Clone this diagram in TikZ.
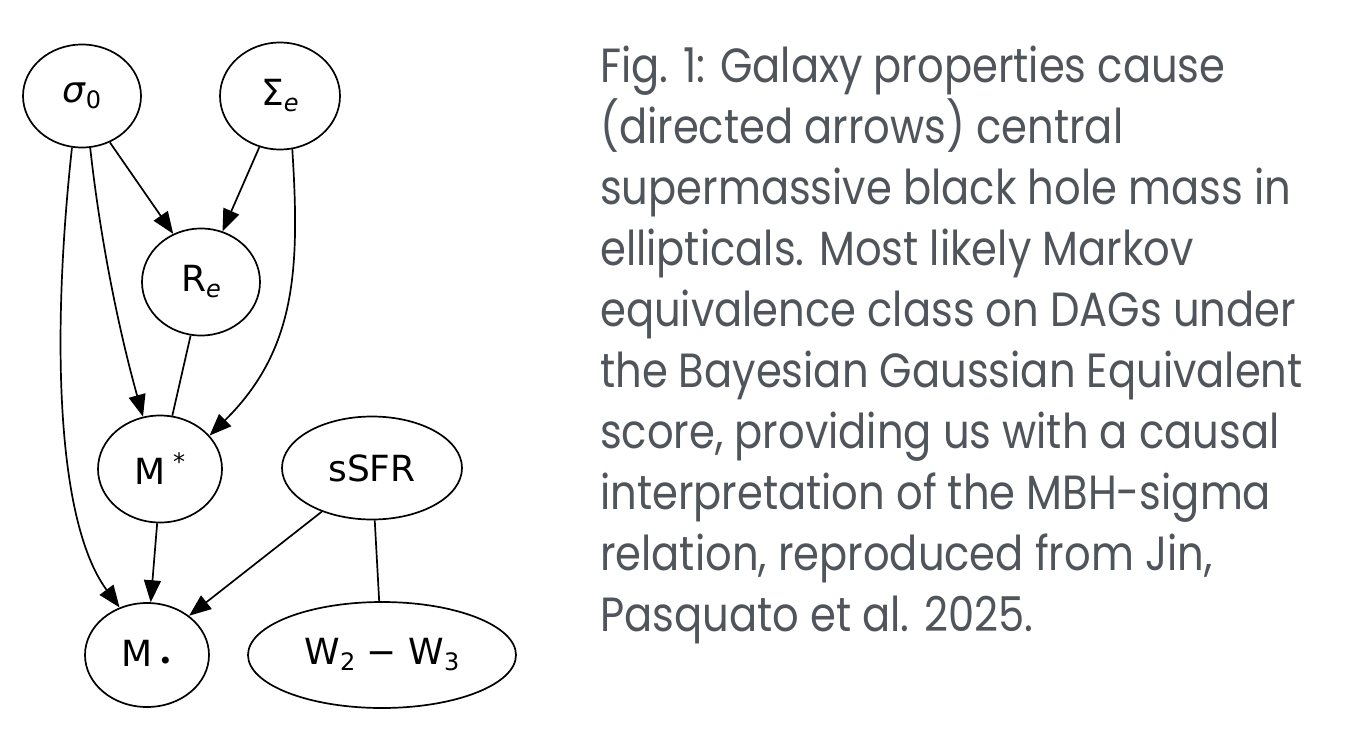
\documentclass[tikz,border=0pt]{standalone}
\usepackage{fontspec}
\setmainfont[FakeStretch=0.868]{Poppins}
\newfontfamily\dv{DejaVu Sans}
\usetikzlibrary{shapes.geometric,arrows.meta}
\definecolor{captxt}{HTML}{50555C}
\newcommand{\gsub}[1]{\raisebox{-6pt}{\fontsize{24}{24}\selectfont #1}}
\begin{document}
\begin{tikzpicture}[x=1pt,y=-1pt,
  gnode/.style={draw=black, line width=1.7pt, ellipse, inner sep=0pt,
    font=\dv\fontsize{36}{40}\selectfont},
  arr/.style={line width=1.7pt, -{Triangle[length=22pt,width=17pt]}},
  lnk/.style={line width=1.7pt},
  captext/.style={anchor=base west, inner sep=0pt, text=captxt,
    font=\fontsize{48}{58}\selectfont}]
\useasboundingbox[fill=white] (0,0) rectangle (1346,734);
% nodes
\node[gnode, minimum width=118pt, minimum height=103pt] (s0) at (82,96) {{\itshape σ}\gsub{0}};
\node[gnode, minimum width=120pt, minimum height=107pt] (Se) at (280,96) {Σ\gsub{\itshape e}};
\node[gnode, minimum width=118pt, minimum height=107pt] (Re) at (201,282) {R\gsub{\itshape e}};
\node[gnode, minimum width=124pt, minimum height=107pt] (Ms) at (160,469) {M\hspace{7pt}\raisebox{14pt}{\fontsize{24}{24}\selectfont *}};
\node[gnode, minimum width=180pt, minimum height=103pt] (sS) at (372,468) {sSFR};
\node[gnode, minimum width=124pt, minimum height=104pt] (Md) at (147,655) {M\hspace{6pt}\raisebox{-3pt}{\fontsize{24}{24}\selectfont •}};
\node[gnode, minimum width=268pt, minimum height=106pt] (W) at (382,655) {W\gsub{2} − W\gsub{3}};
% edges
\draw[arr] (s0.-59) -- (Re.120);
\draw[arr] (Se.-112) -- (Re.67);
\draw[arr] (s0.-81) .. controls (100,237) and (118,327) .. (Ms.108);
\draw[arr] (s0.-101) .. controls (52,330) and (55,520) .. (Md.120);
\draw[arr] (Se.-77) .. controls (300,270) and (296,350) .. (Ms.34);
\draw[lnk] (Re.-101) -- (Ms.77);
\draw[arr] (Ms.-93) -- (Md.86);
\draw[arr] (sS.-139) -- (Md.43);
\draw[lnk] (sS.-87) -- (W.93);
% caption
\node[captext] (c1) at (600,82) {Fig. 1: Galaxy properties cause};
\node[captext] (c2) at (600,143) {(directed arrows) central};
\node[captext] (c3) at (600,204) {supermassive black hole mass in};
\node[captext] (c4) at (600,265) {ellipticals. Most likely Markov};
\node[captext] (c5) at (600,326) {equivalence class on DAGs under};
\node[captext] (c6) at (600,387) {the Bayesian Gaussian Equivalent};
\node[captext] (c7) at (600,448) {score, providing us with a causal};
\node[captext] (c8) at (600,509) {interpretation of the MBH-sigma};
\node[captext] (c9) at (600,570) {relation, reproduced from Jin,};
\node[captext] (c10) at (600,631) {Pasquato et al. 2025.};
\end{tikzpicture}
\end{document}
